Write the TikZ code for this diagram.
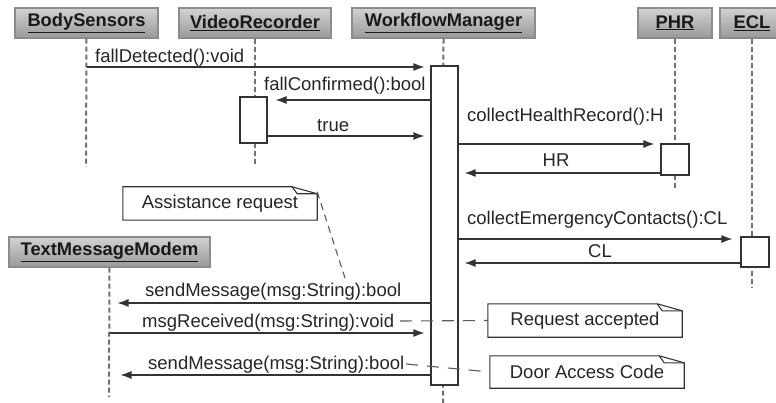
\documentclass[tikz,border=0pt]{standalone}
\usepackage{fontspec}
\setmainfont{Liberation Sans}
\usetikzlibrary{arrows.meta}
\definecolor{ln}{HTML}{333333}
\definecolor{ll}{HTML}{707070}
\definecolor{hb}{HTML}{8c8c8c}
\begin{document}
\begin{tikzpicture}[x=1pt,y=-1pt,
  font=\fontsize{18.5}{20}\selectfont,
  hdr/.style={draw=hb, line width=1.2pt, top color=gray!35, bottom color=gray!80, minimum height=30pt, inner sep=0pt, font=\bfseries\fontsize{18.3}{20}\selectfont, text=black!90},
  life/.style={draw=ll, line width=2pt, dash pattern=on 5pt off 3pt},
  act/.style={draw=ln, fill=white, line width=1.2pt, inner sep=0pt},
  msg/.style={draw=ln, line width=1.2pt, -{Latex[length=11pt,width=8pt]}},
  lbl/.style={anchor=base west, text=black!85, inner sep=0pt},
  notebox/.style={draw=ln, line width=1.1pt, fill=white},
  notetxt/.style={inner sep=0pt, text=black!85},
  anchorline/.style={draw=ln!80, line width=1.1pt, dash pattern=on 12pt off 9pt}
]
\useasboundingbox (0,0) rectangle (776,403);
\fill[white] (0,0) rectangle (776,403);

% headers
\node[hdr, minimum width=143pt] (bs) at (86.5,23) {\underline{BodySensors}};
\node[hdr, minimum width=152pt] (vr) at (255,23) {\underline{VideoRecorder}};
\node[hdr, minimum width=183pt] (wm) at (443.5,23) {\underline{WorkflowManager}};
\node[hdr, minimum width=74pt] (phr) at (675,23) {\underline{PHR}};
\node[hdr, minimum width=64pt] (ecl) at (752,23) {\underline{ECL}};
\node[hdr, minimum width=201pt] (tmm) at (109.5,252) {\underline{TextMessageModem}};

% lifelines
\coordinate (bsend) at (86,167);
\coordinate (vrend) at (255,166);
\coordinate (wmend) at (443,403);
\coordinate (phrend) at (675,190);
\coordinate (eclend) at (752,287);
\coordinate (tmmend) at (109,397);
\draw[life] (bs.south) -- (bsend);
\draw[life] (vr.south) -- (vrend);
\draw[life] (wm.south) -- (wmend);
\draw[life] (phr.south) -- (phrend);
\draw[life] (ecl.south) -- (eclend);
\draw[life] (tmm.south) -- (tmmend);

% activations
\node[act, minimum width=27pt, minimum height=319pt] (wma) at (444.5,225.5) {};
\node[act, minimum width=27pt, minimum height=46pt] (vra) at (253.5,120) {};
\node[act, minimum width=28pt, minimum height=31pt] (phra) at (675,159.5) {};
\node[act, minimum width=28pt, minimum height=30pt] (ecla) at (755,252) {};

% messages
\draw[msg, shorten >=6pt] (bs.south |- 0,67) -- (wma.west |- 0,67);
\node[lbl] (m1) at (95,63) {fallDetected():void};

\draw[msg, shorten >=8pt] (wma.west |- 0,100) -- (vra.east |- 0,100);
\node[lbl] (m2) at (264,91) {fallConfirmed():bool};

\draw[msg, shorten >=6pt] (vra.east |- 0,136) -- (wma.west |- 0,136);
\node[lbl] (m3) at (317,132) {true};

\draw[msg, shorten >=6pt] (wma.east |- 0,144) -- (phra.west |- 0,144);
\node[lbl] (m4) at (467,122) {collectHealthRecord():H};

\draw[msg, shorten >=6pt] (phra.west |- 0,173) -- (wma.east |- 0,173);
\node[anchor=base, inner sep=0pt, text=black!85] (m5) at (556,167) {HR};

\draw[msg, shorten >=8pt] (wma.east |- 0,239) -- (ecla.west |- 0,239);
\node[lbl] (m6) at (467,225) {collectEmergencyContacts():CL};

\draw[msg, shorten >=6pt] (ecla.west |- 0,263) -- (wma.east |- 0,263);
\node[anchor=base, inner sep=0pt, text=black!85] (m7) at (600,258) {CL};

\draw[msg, shorten >=8pt] (wma.west |- 0,303) -- (tmm.south |- 0,303);
\node[lbl] (m8) at (145,297) {sendMessage(msg:String):bool};

\draw[msg, shorten >=6pt] (tmm.south |- 0,333) -- (wma.west |- 0,333);
\node[lbl] (m9) at (142,327) {msgReceived(msg:String):void};

\draw[msg, shorten >=11pt] (wma.west |- 0,375) -- (tmm.south |- 0,375);
\node[lbl] (m10) at (148,369) {sendMessage(msg:String):bool};

% notes
\node[notetxt, minimum width=194pt, minimum height=33pt] (n1) at (220,203.5) {};
\node[notetxt, minimum width=194pt, minimum height=33pt] (n2) at (585,320.5) {};
\node[notetxt, minimum width=194pt, minimum height=32pt] (n3) at (587,372) {};
\foreach \n in {n1,n2,n3}{
  \draw[notebox] (\n.south west) -- (\n.north west) -- ([xshift=-25pt]\n.north east)
     -- ([yshift=-7pt]\n.north east) -- (\n.south east) -- cycle;
  \draw[draw=ln, line width=1.1pt] ([xshift=-25pt]\n.north east) -- ([xshift=-20pt,yshift=-7pt]\n.north east) -- ([yshift=-7pt]\n.north east);
}
\node[notetxt] (t1) at (n1) {Assistance request};
\node[notetxt] (t2) at (n2) {Request accepted};
\node[notetxt] (t3) at (n3) {Door Access Code};

% note anchors
\coordinate (a1) at (345,278);
\coordinate (a2) at (400,321);
\coordinate (a3) at (406,364);
\draw[draw=ln!80, line width=1.1pt, dash pattern=on 7pt off 5pt] ([yshift=-5pt]n1.north east) -- (a1);
\draw[anchorline] (a2) -- (n2.west);
\draw[anchorline] (a3) -- (n3.west);
\end{tikzpicture}
\end{document}
